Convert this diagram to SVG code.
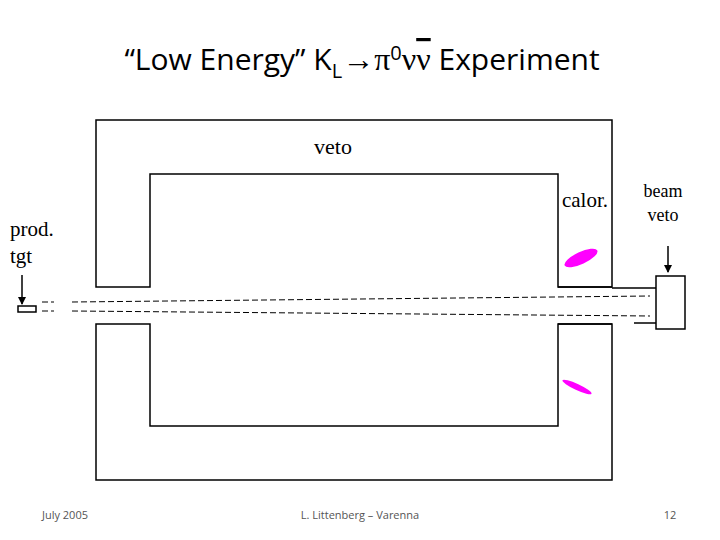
<svg xmlns="http://www.w3.org/2000/svg" width="720" height="540" viewBox="0 0 720 540">
<style>
.s{fill:none;stroke:#000;stroke-width:1.5}
.d{fill:none;stroke:#000;stroke-width:1;stroke-dasharray:6,3}
.t{font-family:"Liberation Serif",serif;fill:#000}
.f{font-family:"Open Sans",sans-serif;font-size:11px;fill:#555;text-anchor:middle}
</style>
<defs><marker id="a" markerWidth="8" markerHeight="8" refX="7" refY="4" orient="auto" markerUnits="userSpaceOnUse"><path d="M0,0L8,4L0,8z" fill="#000"/></marker></defs>
<rect width="720" height="540" fill="#fff"/>
<text x="362" y="70" text-anchor="middle" font-family="Open Sans,sans-serif" font-size="30">“Low Energy” K<tspan font-size="20" dy="8">L</tspan><tspan dy="-8" font-family="Liberation Serif,serif" font-size="32">→π</tspan><tspan font-size="20" dy="-10">0</tspan><tspan dy="10" font-family="Liberation Serif,serif" font-size="32">ν</tspan><tspan font-family="Liberation Serif,serif" font-size="32" text-decoration="overline">ν</tspan><tspan> Experiment</tspan></text>
<g id="upper"><path class="s" d="M96,120H612V287H558V174H150V287H96Z"/></g>
<g id="lower"><path class="s" d="M96,324H150V426H558V324H612V480H96Z"/></g>
<g id="calor"><path class="s" d="M558,287H612M558,324H612"/>
<ellipse cx="581" cy="258" rx="18" ry="6" fill="#f0f" transform="rotate(-25 581 258)"/>
<ellipse cx="577" cy="387" rx="16" ry="3" fill="#f0f" transform="rotate(25 577 387)"/></g>
<g id="beamveto"><rect class="s" x="656" y="276" width="29" height="53"/><path class="s" d="M612,288H656M634,323H656"/></g>
<g id="target"><rect class="s" x="18" y="306" width="18" height="6"/></g>
<g id="connectors">
<path class="d" d="M42,302H54M42,311H54"/>
<path class="d" d="M72,302L650,296M72,311L650,316"/>
<path class="s" d="M22,275V304" marker-end="url(#a)"/>
<path class="s" d="M668,246V272" marker-end="url(#a)"/>
</g>
<text class="t" x="333" y="154" font-size="22" text-anchor="middle">veto</text>
<text class="t" x="585" y="207" font-size="21" text-anchor="middle">calor.</text>
<text class="t" x="663" y="197" font-size="18" text-anchor="middle">beam</text>
<text class="t" x="663" y="221" font-size="18" text-anchor="middle">veto</text>
<text class="t" x="10" y="236" font-size="21">prod.</text>
<text class="t" x="10" y="263" font-size="21">tgt</text>
<text class="f" x="65" y="519">July 2005</text>
<text class="f" x="360" y="519">L. Littenberg – Varenna</text>
<text class="f" x="670" y="519">12</text>
</svg>
